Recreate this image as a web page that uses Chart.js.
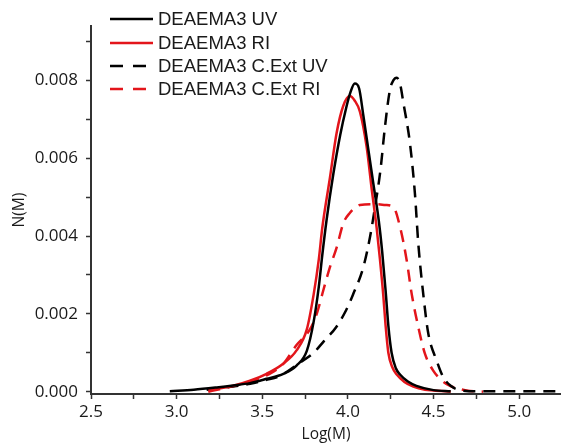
<!DOCTYPE html>
<html>
<head>
<meta charset="utf-8">
<script src="https://cdn.jsdelivr.net/npm/chart.js@4.4.1/dist/chart.umd.min.js"></script>
<style>
  html, body { margin: 0; padding: 0; background: #fff; }
  canvas { display: block; }
</style>
</head>
<body>
<canvas id="gpcChart" width="561" height="445"></canvas>
<script>
// series labels
const seriesLabels = ['DEAEMA3 UV', 'DEAEMA3 RI', 'DEAEMA3 C.Ext UV', 'DEAEMA3 C.Ext RI'];

// DEAEMA3 UV (black solid)
const uvLogM = [2.96, 3.1, 3.234, 3.33, 3.428, 3.525, 3.623, 3.70, 3.76, 3.80, 3.83, 3.85, 3.875, 3.915, 3.955, 3.99, 4.015, 4.04, 4.065, 4.09, 4.12, 4.15, 4.18, 4.20, 4.22, 4.236, 4.255, 4.28, 4.304, 4.35, 4.40, 4.50, 4.60];
const uvN    = [0.00001, 0.00005, 0.00011, 0.00016, 0.00022, 0.00033, 0.00046, 0.00067, 0.00105, 0.0018, 0.0027, 0.0035, 0.0044, 0.0056, 0.0066, 0.0073, 0.0077, 0.00792, 0.0078, 0.0071, 0.0062, 0.0053, 0.0044, 0.0036, 0.0026, 0.0017, 0.0010, 0.0006, 0.00044, 0.00026, 0.00015, 0.00004, 0.00001];

// DEAEMA3 RI (red solid)
const riLogM = [3.185, 3.33, 3.428, 3.525, 3.62, 3.70, 3.76, 3.80, 3.83, 3.85, 3.895, 3.934, 3.973, 4.01, 4.04, 4.07, 4.109, 4.139, 4.168, 4.187, 4.206, 4.22, 4.236, 4.26, 4.285, 4.33, 4.382, 4.45, 4.50, 4.60];
const riN    = [0.00003, 0.00015, 0.00028, 0.00046, 0.00071, 0.00106, 0.0016, 0.0025, 0.0034, 0.0042, 0.0055, 0.00665, 0.00735, 0.0076, 0.00748, 0.0072, 0.0063, 0.0052, 0.0042, 0.0034, 0.0025, 0.0017, 0.0010, 0.00062, 0.00044, 0.00025, 0.00013, 0.00005, 0.00003, 0.0];

// DEAEMA3 C.Ext UV (black dashed)
const extUvLogM = [3.175, 3.30, 3.43, 3.52, 3.60, 3.72, 3.80, 3.86, 3.93, 3.99, 4.03, 4.09, 4.13, 4.16, 4.19, 4.216, 4.245, 4.265, 4.285, 4.305, 4.324, 4.362, 4.391, 4.411, 4.44, 4.469, 4.518, 4.557, 4.60, 4.654, 4.75, 5.00, 5.244];
const extUvN    = [0.00005, 0.00012, 0.0002, 0.0003, 0.0004, 0.00075, 0.0010, 0.0013, 0.00165, 0.0021, 0.0025, 0.0032, 0.0040, 0.0048, 0.0057, 0.0068, 0.00775, 0.0080, 0.00807, 0.0079, 0.00742, 0.00639, 0.0051, 0.0038, 0.0025, 0.0015, 0.0008, 0.00037, 0.00015, 0.00004, 0.00001, 0.00001, 0.00001];

// DEAEMA3 C.Ext RI (red dashed)
const extRiLogM = [3.185, 3.25, 3.33, 3.43, 3.53, 3.62, 3.70, 3.778, 3.818, 3.856, 3.895, 3.934, 3.973, 4.012, 4.04, 4.07, 4.15, 4.22, 4.265, 4.304, 4.343, 4.372, 4.411, 4.45, 4.498, 4.55, 4.596, 4.693, 4.79];
const extRiN    = [0.0, 0.00006, 0.00014, 0.00026, 0.00043, 0.0007, 0.0012, 0.0016, 0.0020, 0.0026, 0.0032, 0.0037, 0.00433, 0.0046, 0.00472, 0.0048, 0.00482, 0.0048, 0.00475, 0.00424, 0.00338, 0.00252, 0.00166, 0.00097, 0.00054, 0.00028, 0.00015, 0.00003, 0.0];

// tick values (major + minor)
const xTickValues = [2.5, 2.75, 3.0, 3.25, 3.5, 3.75, 4.0, 4.25, 4.5, 4.75, 5.0];
const xTickLabels = ['2.5', '', '3.0', '', '3.5', '', '4.0', '', '4.5', '', '5.0'];
const yTickValues = [0, 0.001, 0.002, 0.003, 0.004, 0.005, 0.006, 0.007, 0.008, 0.009];
const yTickLabels = ['0.000', '', '0.002', '', '0.004', '', '0.006', '', '0.008', ''];

function toPoints(xs, ys) {
    return xs.map((x, i) => ({ x: x, y: ys[i] }));
}

const RED = '#e3151b';
const AXIS = '#333333';
const TEXT = '#1a1a1a';

// legende dessinee dans la zone du graphique
const insideLegend = {
    id: 'insideLegend',
    afterDraw(chart) {
        const ctx = chart.ctx;
        const rows = [19, 43, 66, 89];
        ctx.save();
        ctx.font = '18.5px "Liberation Sans", Arial, sans-serif';
        ctx.textBaseline = 'middle';
        ctx.fillStyle = TEXT;
        chart.data.datasets.forEach((ds, i) => {
            const y = rows[i];
            ctx.beginPath();
            ctx.strokeStyle = ds.borderColor;
            ctx.lineWidth = 2.5;
            ctx.setLineDash(ds.borderDash ? [13, 10] : []);
            ctx.moveTo(110, y);
            ctx.lineTo(153, y);
            ctx.stroke();
            ctx.setLineDash([]);
            ctx.fillText(ds.label, 158, y + 1);
        });
        ctx.restore();
    }
};

const ctx = document.getElementById('gpcChart').getContext('2d');
const gpcChart = new Chart(ctx, {
    type: 'line',
    data: {
        datasets: [
            { label: seriesLabels[0], data: toPoints(uvLogM, uvN), borderColor: '#000000' },
            { label: seriesLabels[1], data: toPoints(riLogM, riN), borderColor: RED },
            { label: seriesLabels[2], data: toPoints(extUvLogM, extUvN), borderColor: '#000000', borderDash: [12, 8] },
            { label: seriesLabels[3], data: toPoints(extRiLogM, extRiN), borderColor: RED, borderDash: [12, 8] }
        ]
    },
    options: {
        responsive: false,
        animation: false,
        layout: { padding: { top: 26, right: 0, left: 0, bottom: 0 } },
        elements: {
            point: { radius: 0, hoverRadius: 0 },
            line: { borderWidth: 2.5, fill: false, tension: 0.4, cubicInterpolationMode: 'monotone' }
        },
        plugins: {
            legend: { display: false },
            tooltip: { enabled: false }
        },
        scales: {
            x: {
                type: 'linear',
                min: 2.5,
                max: 5.244,
                afterBuildTicks: scale => { scale.ticks = xTickValues.map(v => ({ value: v })); },
                afterFit: scale => { scale.height = 51; },
                ticks: {
                    autoSkip: false,
                    maxRotation: 0,
                    padding: 3,
                    color: TEXT,
                    font: { family: '"Open Sans", sans-serif', size: 17 },
                    callback: (value, index) => xTickLabels[index]
                },
                grid: { drawOnChartArea: false, drawTicks: true, tickLength: 5, tickColor: AXIS, tickWidth: 1.5 },
                border: { color: AXIS, width: 2 },
                title: {
                    display: true,
                    text: 'Log(M)',
                    color: TEXT,
                    font: { family: '"Open Sans", sans-serif', size: 15.5 },
                    padding: { top: 0, bottom: 1 }
                }
            },
            y: {
                min: -0.00006,
                max: 0.0094,
                afterBuildTicks: scale => { scale.ticks = yTickValues.map(v => ({ value: v })); },
                afterFit: scale => { scale.width = 91; },
                ticks: {
                    autoSkip: false,
                    padding: 8,
                    color: TEXT,
                    font: { family: '"Open Sans", sans-serif', size: 17 },
                    callback: (value, index) => yTickLabels[index]
                },
                grid: { drawOnChartArea: false, drawTicks: true, tickLength: 5, tickColor: AXIS, tickWidth: 1.5 },
                border: { color: AXIS, width: 2 },
                title: {
                    display: true,
                    text: 'N(M)',
                    color: TEXT,
                    font: { family: '"Open Sans", sans-serif', size: 15.5 },
                    padding: { top: 10, bottom: 0 }
                }
            }
        }
    },
    plugins: [insideLegend]
});
</script>
</body>
</html>
